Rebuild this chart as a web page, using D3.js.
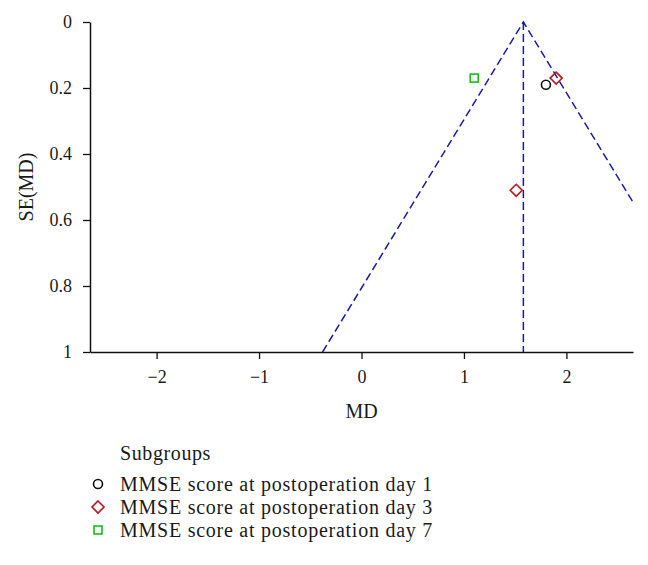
<!DOCTYPE html>
<html>
<head>
<meta charset="utf-8">
<script src="https://cdn.jsdelivr.net/npm/d3@7"></script>
<style>
  html, body { margin: 0; padding: 0; background: #fff; }
  svg { display: block; }
  text { font-family: "Liberation Serif", "Times New Roman", serif; fill: #1a1a1a; }
</style>
</head>
<body>
<svg id="chart" width="648" height="565"></svg>
<script>
// ---- data ----
const subgroups = ["MMSE score at postoperation day 1", "MMSE score at postoperation day 3", "MMSE score at postoperation day 7"];
const subgroupShapes = ["circle", "diamond", "square"];
const subgroupColors = ["#111111", "#c0141c", "#16c016"];
const pointMD = [1.80, 1.90, 1.51, 1.10];
const pointSE = [0.19, 0.17, 0.51, 0.17];
const pointGroup = [0, 1, 1, 2];
const pooledMD = 1.58;
const xTicks = [-2, -1, 0, 1, 2];
const yTicks = [0, 0.2, 0.4, 0.6, 0.8, 1];
const xDomain = [-2.65, 2.65];
const yDomain = [0, 1];

// ---- layout ----
const svg = d3.select("#chart");
const plot = { left: 90, right: 633, top: 22, bottom: 352 };
const x = d3.scaleLinear().domain(xDomain).range([plot.left, plot.right]);
const y = d3.scaleLinear().domain(yDomain).range([plot.top, plot.bottom]);

svg.append("defs").append("clipPath").attr("id", "plotclip")
  .append("rect").attr("x", plot.left).attr("y", plot.top - 2)
  .attr("width", plot.right - plot.left).attr("height", plot.bottom - plot.top + 2);

// funnel lines
const funnel = svg.append("g").attr("clip-path", "url(#plotclip)")
  .attr("fill", "none").attr("stroke", "#1a1aa8").attr("stroke-width", 1.5)
  .attr("stroke-dasharray", "8,4");
const line = d3.line().x(d => x(d[0])).y(d => y(d[1]));
funnel.append("path").attr("d", line([[pooledMD - 1.96 * yDomain[1], yDomain[1]], [pooledMD, 0], [pooledMD + 1.96 * yDomain[1], yDomain[1]]]));
funnel.append("path").attr("d", line([[pooledMD, 0], [pooledMD, yDomain[1]]]));

// axes
const fontAxis = "18px";
const yAxis = svg.append("g").attr("transform", `translate(${plot.left},0)`)
  .call(d3.axisLeft(y).tickValues(yTicks).tickSize(7).tickSizeOuter(0).tickPadding(11).tickFormat(d3.format("")));
const xAxis = svg.append("g").attr("transform", `translate(0,${plot.bottom})`)
  .call(d3.axisBottom(x).tickValues(xTicks).tickSize(7).tickSizeOuter(0).tickPadding(11).tickFormat(d3.format("")));
[xAxis, yAxis].forEach(a => {
  a.attr("font-family", "Liberation Serif");
  a.selectAll("path.domain").attr("stroke", "#111").attr("stroke-width", 1.5);
  a.selectAll(".tick line").attr("stroke", "#111").attr("stroke-width", 1.3);
  a.selectAll(".tick text").style("font-size", fontAxis).style("font-family", "Liberation Serif").attr("fill", "#1a1a1a");
});

// axis titles
svg.append("text").attr("x", (plot.left + plot.right) / 2).attr("y", 418)
  .attr("text-anchor", "middle").style("font-size", "20px").text("MD");
svg.append("text").attr("transform", `translate(33,${(plot.top + plot.bottom) / 2}) rotate(-90)`)
  .attr("text-anchor", "middle").style("font-size", "20px").text("SE(MD)");

// marker drawing
function drawMarker(g, shape, color, cx, cy) {
  if (shape === "circle") {
    g.append("circle").attr("cx", cx).attr("cy", cy).attr("r", 4.5)
      .attr("fill", "none").attr("stroke", color).attr("stroke-width", 1.6);
  } else if (shape === "diamond") {
    const s = 6;
    g.append("path").attr("d", `M${cx},${cy - s}L${cx + s},${cy}L${cx},${cy + s}L${cx - s},${cy}Z`)
      .attr("fill", "none").attr("stroke", color).attr("stroke-width", 1.6);
  } else {
    const s = 4;
    g.append("rect").attr("x", cx - s).attr("y", cy - s).attr("width", 2 * s).attr("height", 2 * s)
      .attr("fill", "none").attr("stroke", color).attr("stroke-width", 1.6);
  }
}

// points
const pts = svg.append("g");
pointMD.forEach((md, i) => {
  const gi = pointGroup[i];
  drawMarker(pts, subgroupShapes[gi], subgroupColors[gi], x(md), y(pointSE[i]));
});

// legend
const leg = svg.append("g");
leg.append("text").attr("x", 120).attr("y", 460).style("font-size", "20px").attr("letter-spacing", "0.6px").text("Subgroups");
subgroups.forEach((s, i) => {
  const cy = 484 + i * 23;
  drawMarker(leg, subgroupShapes[i], subgroupColors[i], 98, cy);
  leg.append("text").attr("x", 120).attr("y", cy + 6.5).style("font-size", "20px")
    .attr("letter-spacing", "0.75px").text(s);
});
</script>
</body>
</html>
